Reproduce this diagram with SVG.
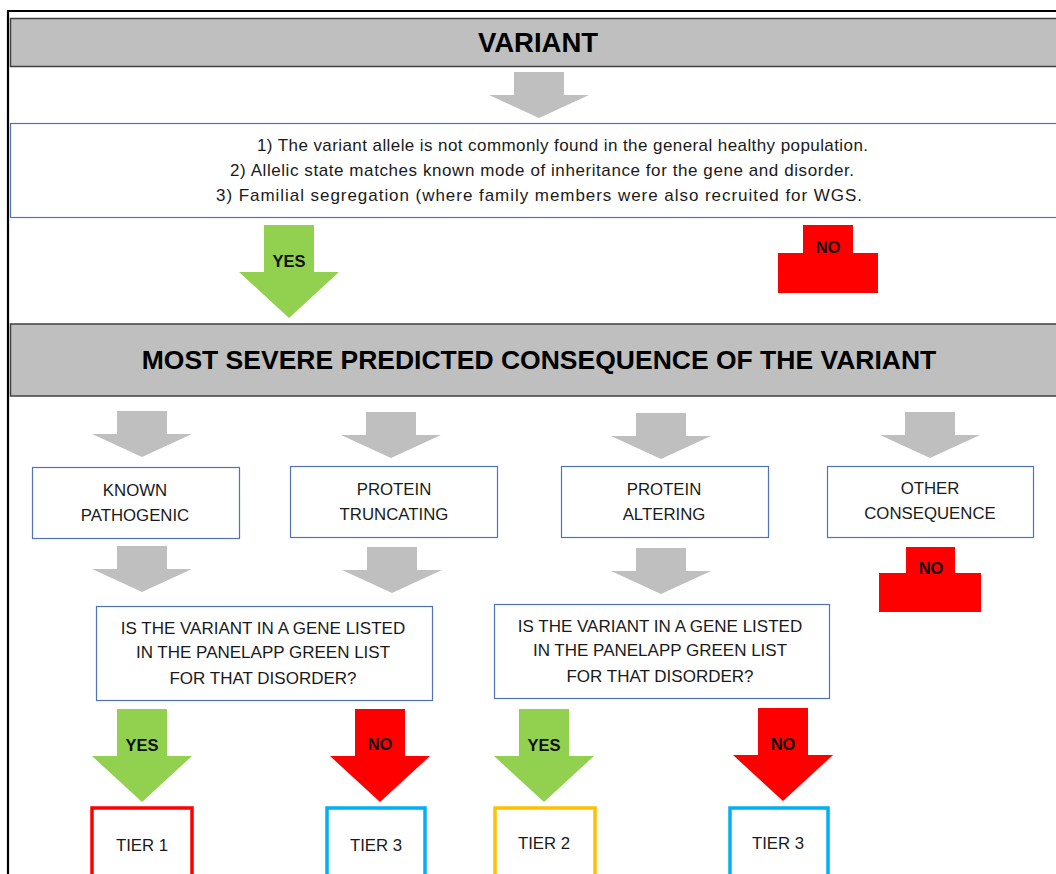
<svg xmlns="http://www.w3.org/2000/svg" xmlns:xlink="http://www.w3.org/1999/xlink" width="1056" height="874" viewBox="0 0 1056 874">
  <style>
    .hdr { fill: #BFBFBF; stroke: #404040; stroke-width: 1.5; }
    .box { fill: #FFFFFF; stroke: #4F72B8; stroke-width: 1.2; }
    .tier { fill: #FFFFFF; stroke-width: 3.5; }
    .t { font-family: "Liberation Sans", Arial, sans-serif; font-size: 16.8px; fill: #1A1A1A; text-anchor: middle; }
    .q { font-family: "Liberation Sans", Arial, sans-serif; font-size: 17px; fill: #1A1A1A; text-anchor: middle; }
    .lead { font-family: "Liberation Sans", Arial, sans-serif; font-size: 17px; fill: #1A1A1A; }
    .h { font-family: "Liberation Sans", Arial, sans-serif; font-weight: bold; fill: #000000; text-anchor: middle; }
    .lbl { font-family: "Liberation Sans", Arial, sans-serif; font-weight: bold; font-size: 16.5px; fill: #111111; text-anchor: middle; }
    .grey { fill: #BFBFBF; }
    .green { fill: #92D050; }
    .red { fill: #FF0000; }
  </style>
  <defs>
    <!-- short block arrow, tip at (0,46) -->
    <path id="arrowShort" d="M-25,0 H25 V23 H50 L0,46 L-50,23 H-25 Z"/>
    <!-- long block arrow, tip at (0,93) -->
    <path id="arrowLong" d="M-25,0 H25 V47 H50 L0,93 L-50,47 H-25 Z"/>
  </defs>

  <rect width="1056" height="874" fill="#FFFFFF"/>
  <!-- page frame -->
  <path d="M8,874 V11 H1056" fill="none" stroke="#000000" stroke-width="2.2"/>

  <g id="variant-header">
    <rect class="hdr" x="10.5" y="18.5" width="1060" height="48"/>
    <text class="h" x="538" y="52" font-size="27.5">VARIANT</text>
  </g>

  <g id="criteria">
    <rect class="box" x="10.5" y="123.5" width="1060" height="94"/>
    <text class="lead" x="257" y="151" textLength="611" lengthAdjust="spacing">1) The variant allele is not commonly found in the general healthy population.</text>
    <text class="lead" x="230" y="176" textLength="624" lengthAdjust="spacing">2) Allelic state matches known mode of inheritance for the gene and disorder.</text>
    <text class="lead" x="216" y="201" textLength="646" lengthAdjust="spacing">3) Familial segregation (where family members were also recruited for WGS.</text>
  </g>

  <g id="consequence-header">
    <rect class="hdr" x="10.5" y="324" width="1060" height="72"/>
    <text class="h" x="539" y="369" font-size="26.5">MOST SEVERE PREDICTED CONSEQUENCE OF THE VARIANT</text>
  </g>

  <g id="known-pathogenic">
    <rect class="box" x="32.5" y="467.5" width="207" height="71"/>
    <text class="t" x="135" y="496">KNOWN</text>
    <text class="t" x="135" y="521">PATHOGENIC</text>
  </g>

  <g id="protein-truncating">
    <rect class="box" x="290.5" y="466.5" width="207" height="71"/>
    <text class="t" x="394" y="495">PROTEIN</text>
    <text class="t" x="394" y="520">TRUNCATING</text>
  </g>

  <g id="protein-altering">
    <rect class="box" x="561.5" y="466.5" width="207" height="71"/>
    <text class="t" x="664" y="495">PROTEIN</text>
    <text class="t" x="664" y="520">ALTERING</text>
  </g>

  <g id="other-consequence">
    <rect class="box" x="827.5" y="466.5" width="206" height="71"/>
    <text class="t" x="930" y="494">OTHER</text>
    <text class="t" x="930" y="519">CONSEQUENCE</text>
  </g>

  <g id="panelapp-check-1">
    <rect class="box" x="96.5" y="606.5" width="336" height="94"/>
    <text class="q" x="263" y="634">IS THE VARIANT IN A GENE LISTED</text>
    <text class="q" x="263" y="658">IN THE PANELAPP GREEN LIST</text>
    <text class="q" x="263" y="684">FOR THAT DISORDER?</text>
  </g>

  <g id="panelapp-check-2">
    <rect class="box" x="494.5" y="604.5" width="335" height="94"/>
    <text class="q" x="660" y="632">IS THE VARIANT IN A GENE LISTED</text>
    <text class="q" x="660" y="656">IN THE PANELAPP GREEN LIST</text>
    <text class="q" x="660" y="682">FOR THAT DISORDER?</text>
  </g>

  <g id="tier-1">
    <rect class="tier" x="92" y="808" width="100" height="90" stroke="#FF0000"/>
    <text class="t" x="142" y="851">TIER 1</text>
  </g>

  <g id="tier-3-a">
    <rect class="tier" x="327" y="808" width="98" height="90" stroke="#00B0F0"/>
    <text class="t" x="376" y="851">TIER 3</text>
  </g>

  <g id="tier-2">
    <rect class="tier" x="495" y="808" width="100" height="90" stroke="#FFC000"/>
    <text class="t" x="544" y="849">TIER 2</text>
  </g>

  <g id="tier-3-b">
    <rect class="tier" x="730" y="808" width="98" height="90" stroke="#00B0F0"/>
    <text class="t" x="778" y="849">TIER 3</text>
  </g>

  <g id="connectors">
    <!-- grey flow arrows -->
    <use xlink:href="#arrowShort" class="grey" transform="translate(539,72)"/>
    <use xlink:href="#arrowShort" class="grey" transform="translate(142,411)"/>
    <use xlink:href="#arrowShort" class="grey" transform="translate(391,412)"/>
    <use xlink:href="#arrowShort" class="grey" transform="translate(661,413)"/>
    <use xlink:href="#arrowShort" class="grey" transform="translate(930,412)"/>
    <use xlink:href="#arrowShort" class="grey" transform="translate(142,546)"/>
    <use xlink:href="#arrowShort" class="grey" transform="translate(392,547)"/>
    <use xlink:href="#arrowShort" class="grey" transform="translate(661,548)"/>

    <!-- criteria outcome -->
    <use xlink:href="#arrowLong" class="green" transform="translate(289,225)"/>
    <text class="lbl" x="289" y="267">YES</text>
    <path class="red" d="M803,225 H853 V253 H878 V293 H778 V253 H803 Z"/>
    <text class="lbl" x="828" y="253">NO</text>

    <!-- other consequence stops -->
    <path class="red" d="M906,547 H955 V573 H981 V612 H879 V573 H906 Z"/>
    <text class="lbl" x="931" y="574">NO</text>

    <!-- panel list outcomes -->
    <use xlink:href="#arrowLong" class="green" transform="translate(142,709)"/>
    <text class="lbl" x="142" y="751">YES</text>
    <use xlink:href="#arrowLong" class="red" transform="translate(380,709)"/>
    <text class="lbl" x="380" y="750">NO</text>
    <use xlink:href="#arrowLong" class="green" transform="translate(544,709)"/>
    <text class="lbl" x="544" y="751">YES</text>
    <use xlink:href="#arrowLong" class="red" transform="translate(783,708)"/>
    <text class="lbl" x="783" y="750">NO</text>
  </g>
</svg>
